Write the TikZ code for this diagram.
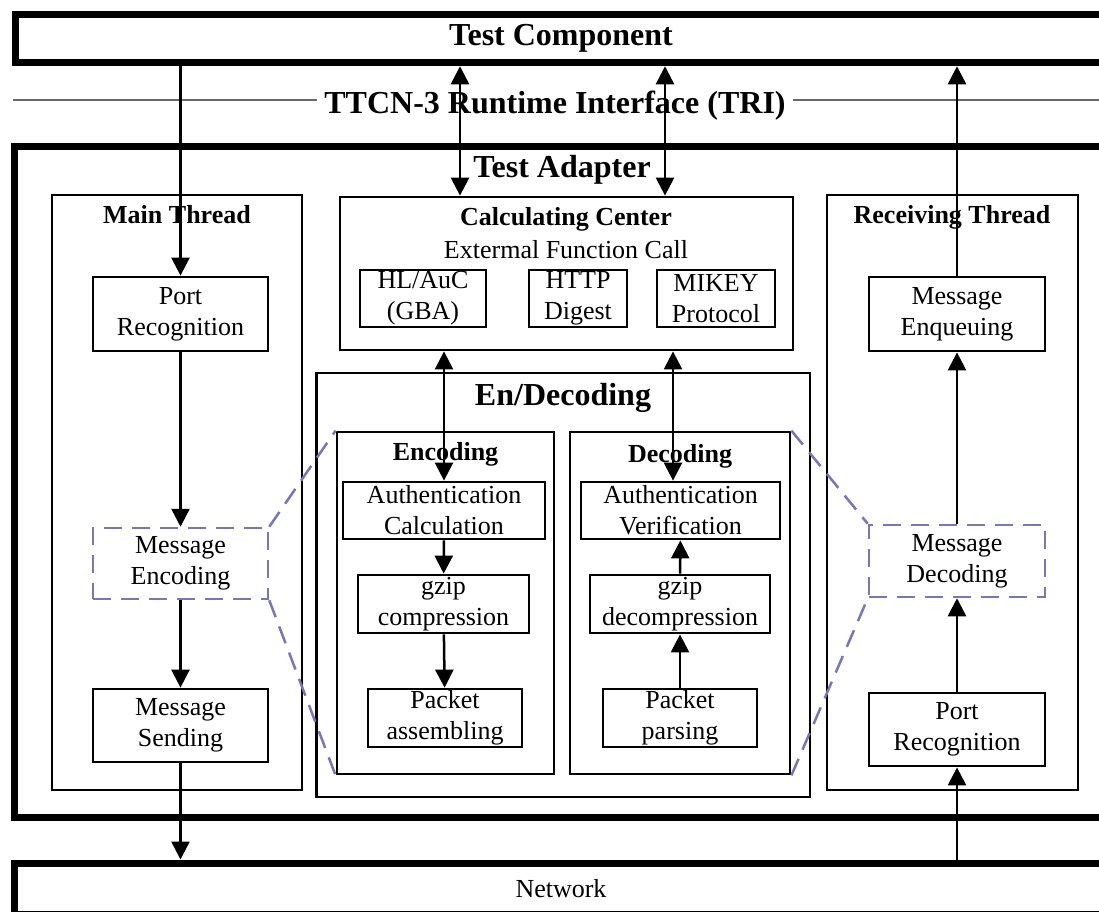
\documentclass[tikz,border=0pt]{standalone}
\usepackage{fontspec}
\setmainfont{Liberation Serif}
\usepackage{xcolor}
\usetikzlibrary{arrows.meta}
\definecolor{dashblue}{RGB}{118,118,184}
\definecolor{trigray}{RGB}{105,105,105}
\tikzset{>={Triangle[length=18pt,width=18pt]}}
\tikzset{
  unit/.style={draw, line width=2.8pt, inner sep=0pt, align=center, font=\fontsize{26}{31}\selectfont},
  dunit/.style={unit, draw=dashblue, line width=2.5pt, dash pattern=on 18pt off 10pt},
  thread/.style={draw, line width=2.8pt, inner sep=0pt},
  tier/.style={draw, line width=7pt, inner sep=0pt, align=center},
  ttl/.style={font=\bfseries\fontsize{26}{31}\selectfont, anchor=base, inner sep=0pt},
  bigttl/.style={font=\bfseries\fontsize{32}{36}\selectfont, anchor=base, inner sep=0pt},
  flow/.style={->, line width=2.5pt},
  zoomline/.style={draw=dashblue, line width=2.5pt, dash pattern=on 18pt off 10pt}
}

\begin{document}
\begin{tikzpicture}[x=1pt, y=-1pt]
\useasboundingbox (0,0) rectangle (1099,911);

% layers
\node[tier, minimum width=1092, minimum height=48.5, font=\bfseries\fontsize{32}{36}\selectfont] (tc) at (561,38.5) {Test Component};
\node[tier, minimum width=1094, minimum height=671] (ta) at (561,481.5) {};
\node[bigttl] (tat) at (562,177) {Test Adapter};
\node[tier, minimum width=1094, minimum height=51, font=\fontsize{26}{31}\selectfont] (net) at (561,888.5) {Network};

% TRI
\coordinate (tril) at (13,99.5);
\coordinate (trir) at (1110,99.5);
\draw[trigray, line width=2pt] (tril) -- (trir);
\node[bigttl, fill=white, inner xsep=7pt, inner ysep=3pt] (tri) at (555,113) {TTCN-3 Runtime Interface (TRI)};

% main thread
\node[thread, minimum width=250, minimum height=595] (mt) at (177,492.5) {};
\node[ttl] (mtt) at (177,223) {Main Thread};
\node[unit, minimum width=175, minimum height=74] (pr1) at (180.5,314) {Port\\Recognition};
\node[dunit, minimum width=175, minimum height=71] (me) at (180.5,563.5) {Message\\Encoding};
\node[unit, minimum width=175, minimum height=73] (ms) at (180.5,725.5) {Message\\Sending};

% calculating center
\node[thread, minimum width=453, minimum height=153] (cc) at (566.5,273.5) {};
\node[ttl] (cct) at (566,225) {Calculating Center};
\node[ttl, font=\fontsize{26}{31}\selectfont] (ccs) at (566,258) {Extermal Function Call};
\node[unit, minimum width=126, minimum height=57] (hl) at (423,298.5) {HL/AuC\\(GBA)};
\node[unit, minimum width=98, minimum height=57] (hd) at (578,298.5) {HTTP\\Digest};
\node[unit, minimum width=118, minimum height=57] (mk) at (716,298.5) {MIKEY\\Protocol};

% en/decoding
\node[thread, minimum width=493.5, minimum height=424] (ed) at (563.25,585) {};
\node[bigttl] (edt) at (563,405) {En/Decoding};
\node[thread, minimum width=217, minimum height=342] (enc) at (445.5,603) {};
\node[ttl] (enct) at (445.5,460) {Encoding};
\node[thread, minimum width=220, minimum height=342] (dec) at (680,603) {};
\node[ttl] (dect) at (680,462) {Decoding};
\node[unit, minimum width=202, minimum height=57] (ac) at (444,510.5) {Authentication\\Calculation};
\node[unit, minimum width=171, minimum height=58] (gz1) at (443.5,604) {gzip\\compression};
\node[unit, minimum width=154, minimum height=58] (pa) at (445,718) {Packet\\assembling};
\node[unit, minimum width=199, minimum height=57] (av) at (680.5,510.5) {Authentication\\Verification};
\node[unit, minimum width=180, minimum height=58] (gz2) at (680,604) {gzip\\decompression};
\node[unit, minimum width=154, minimum height=58] (pp) at (680,718) {Packet\\parsing};

% receiving thread
\node[thread, minimum width=251, minimum height=595] (rt) at (952.5,492.5) {};
\node[ttl] (rtt) at (952,223) {Receiving Thread};
\node[unit, minimum width=176, minimum height=74] (mq) at (957,314) {Message\\Enqueuing};
\node[dunit, minimum width=176, minimum height=72] (md) at (957,561) {Message\\Decoding};
\node[unit, minimum width=176, minimum height=73] (pr2) at (957,729.5) {Port\\Recognition};

% zoom lines
\draw[zoomline] (me.north east) -- (enc.north west);
\draw[zoomline] (me.south east) -- (enc.south west);
\draw[zoomline] (dec.north east) -- (md.north west);
\draw[zoomline] (dec.south east) -- (md.south west);

% sending path
\draw[flow] (tc.south -| pr1) -- (pr1.north);
\draw[flow] (pr1) -- (me);
\draw[flow] (me) -- (ms);
\draw[flow] (ms) -- (ms |- net.north);

% TRI calls
\coordinate (up1) at (460,0);
\coordinate (up2) at (665,0);
\coordinate (dn2) at (673,0);
\draw[<->, line width=2.5pt] (tc.south -| up1) -- (cc.north -| up1);
\draw[<->, line width=2.5pt] (tc.south -| up2) -- (cc.north -| up2);
\draw[<->, line width=2.5pt] (cc.south -| ac) -- (ac.north);
\draw[<->, line width=2.5pt] (cc.south -| dn2) -- (av.north -| dn2);

% coding steps
\draw[flow] (ac) -- (gz1);
\draw[flow] (gz1) -- (pa);
\draw[flow] (pp) -- (gz2);
\draw[flow] (gz2) -- (av);

% receiving path
\draw[flow] (net.north -| pr2) -- (pr2.south);
\draw[flow] (pr2) -- (md);
\draw[flow] (md) -- (mq);
\draw[flow] (mq) -- (mq |- tc.south);
\end{tikzpicture}
\end{document}
